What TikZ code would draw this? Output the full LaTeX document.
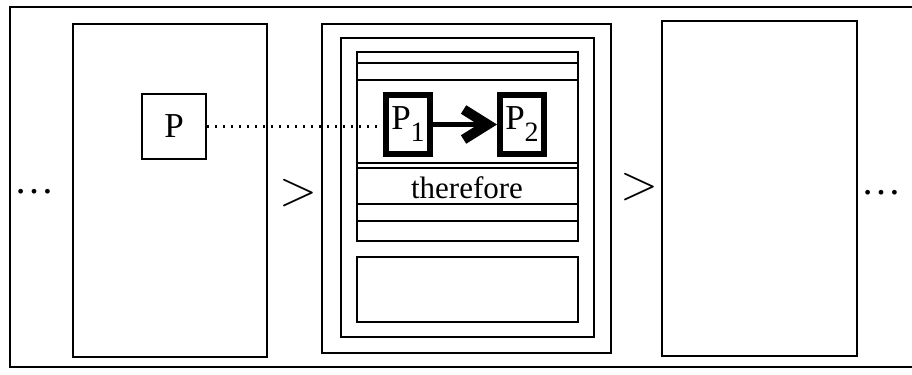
\documentclass[tikz,border=0pt]{standalone}
\usepackage{fontspec}
\setmainfont{Liberation Serif}
\usetikzlibrary{arrows.meta}

\newcommand{\psub}[1]{\raisebox{-6pt}{\fontsize{14}{14}\selectfont #1}}

\begin{document}
\begin{tikzpicture}[x=0.5pt,y=-0.5pt,line width=1pt,
        pbox/.style={draw,line width=1pt,inner sep=0pt,minimum width=32pt,
            minimum height=32.5pt,font=\fontsize{17.5}{17.5}\selectfont},
        qbox/.style={draw,line width=3pt,inner sep=0pt,minimum width=22pt,
            minimum height=29.5pt,font=\fontsize{17.5}{17.5}\selectfont},
        gt/.style={inner sep=0pt,font=\fontsize{24}{24}\selectfont},
        etc/.style={inner sep=0pt,font=\fontsize{20}{20}\selectfont}]
    \useasboundingbox (0,0) rectangle (912,375);
    \draw [line width=1.2pt] (10,7) rectangle (930,367);
    % left state
    \draw (73,24) rectangle (267,357);
    \node [pbox] (p) at (174,126.5) {P};
    % middle state
    \draw (322,24) rectangle (611,353);
    \draw (341,38) rectangle (594,337);
    \draw (357,52) rectangle (578,241);
    \foreach \y in {63,80,163,168,204,221}
        \draw (357,\y) -- (578,\y);
    \draw (357,257) rectangle (578,322);
    \node [qbox] (p1) at (408,124.5) {P\psub{1}};
    \node [qbox] (p2) at (522,124.5) {P\psub{2}};
    \node [inner sep=0pt,font=\fontsize{15.5}{15.5}\selectfont] (therefore) at (467,187.5) {therefore};
    % right state
    \draw (662,21) rectangle (857,356);
    % order between states
    \node [etc] (dotsl) at (35,192) {\ldots};
    \node [gt] (gtl) at (298,193) {$>$};
    \node [gt] (gtr) at (639,187) {$>$};
    \node [etc] (dotsr) at (881,193) {\ldots};
    \draw [line width=1.2pt,dash pattern=on 1.2pt off 2.8pt] (p.east) -- (p.east -| p1.west);
    \draw [line width=2.8pt,-{Straight Barb[length=12pt,width=15pt,line width=5pt]}] (p1) -- (p2);
\end{tikzpicture}
\end{document}
